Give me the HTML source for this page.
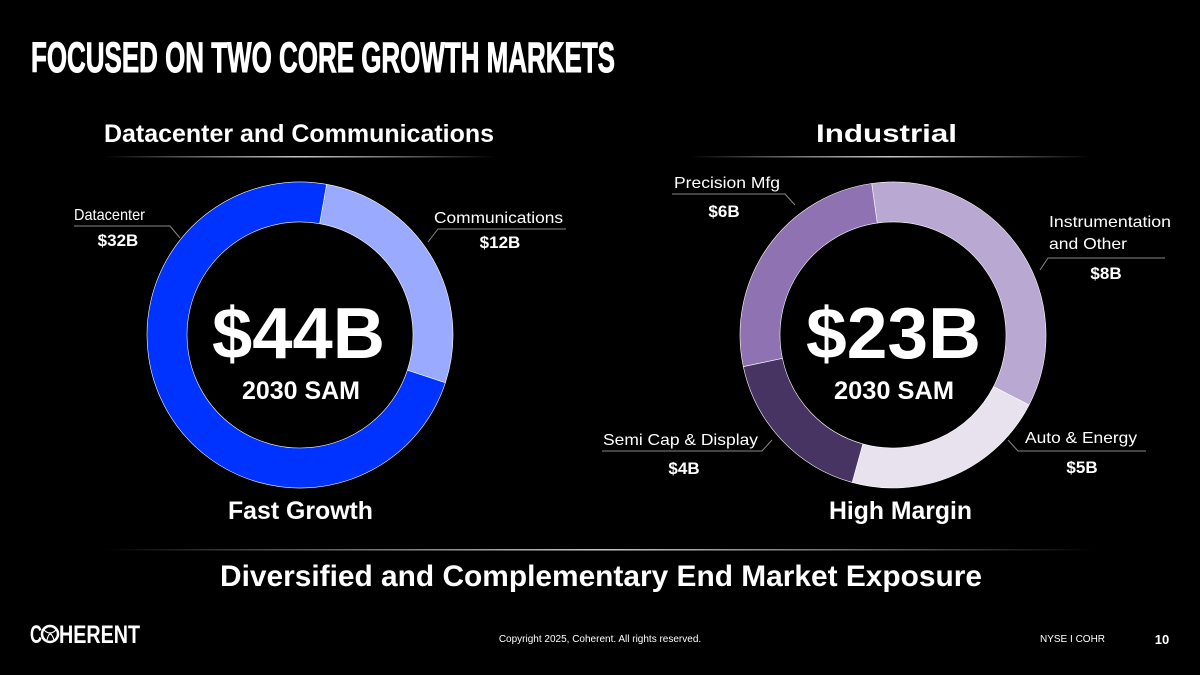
<!DOCTYPE html>
<html><head><meta charset="utf-8"><style>
html,body{margin:0;padding:0;background:#000;}
body{width:1200px;height:675px;overflow:hidden;position:relative;font-family:"Liberation Sans",Arial,sans-serif;}
svg{position:absolute;left:0;top:0;}
</style></head><body>
<svg id="s" width="1200" height="675" viewBox="0 0 1200 675">
<defs>
<linearGradient id="hl" x1="0" x2="1"><stop offset="0" stop-color="#fff" stop-opacity="0"/><stop offset="0.5" stop-color="#ddd" stop-opacity="0.9"/><stop offset="1" stop-color="#fff" stop-opacity="0"/></linearGradient>
</defs>
<text x="31" y="72" fill="#fff" font-size="43" font-weight="bold" stroke="#fff" stroke-width="1" textLength="584" lengthAdjust="spacingAndGlyphs">FOCUSED ON TWO CORE GROWTH MARKETS</text>
<text x="104" y="142" fill="#fff" font-size="25" font-weight="bold" textLength="390" lengthAdjust="spacingAndGlyphs">Datacenter and Communications</text>
<text x="816" y="142" fill="#fff" font-size="25" font-weight="bold" textLength="141" lengthAdjust="spacingAndGlyphs">Industrial</text>
<rect x="105" y="156" width="390" height="1.5" fill="url(#hl)"/>
<rect x="690" y="156" width="400" height="1.5" fill="url(#hl)"/>
<g id="left"></g>
<g id="right"></g>
<text x="212" y="358" fill="#fff" font-size="72" font-weight="bold" textLength="173" lengthAdjust="spacingAndGlyphs">$44B</text>
<text x="242" y="399" fill="#fff" font-size="25" font-weight="bold" textLength="118" lengthAdjust="spacingAndGlyphs">2030 SAM</text>
<text x="806" y="358" fill="#fff" font-size="72" font-weight="bold" textLength="175" lengthAdjust="spacingAndGlyphs">$23B</text>
<text x="834" y="399" fill="#fff" font-size="25" font-weight="bold" textLength="120" lengthAdjust="spacingAndGlyphs">2030 SAM</text>
<g fill="#fff" font-size="16">
<text x="74" y="220" textLength="71" lengthAdjust="spacingAndGlyphs">Datacenter</text>
<text x="118" y="246" text-anchor="middle" font-weight="bold" font-size="17">$32B</text>
<polyline points="74,226 170,226 180,238" fill="none" stroke="#888" stroke-width="1"/>
<text x="434" y="223" textLength="129" lengthAdjust="spacingAndGlyphs">Communications</text>
<text x="500" y="248" text-anchor="middle" font-weight="bold" font-size="17">$12B</text>
<polyline points="566,229 438,229 428,242" fill="none" stroke="#888" stroke-width="1"/>
<text x="674" y="188" textLength="106" lengthAdjust="spacingAndGlyphs">Precision Mfg</text>
<text x="724" y="217" text-anchor="middle" font-weight="bold" font-size="17">$6B</text>
<polyline points="672,194 785,194 795,205" fill="none" stroke="#888" stroke-width="1"/>
<text x="1049" y="227" textLength="122" lengthAdjust="spacingAndGlyphs">Instrumentation</text>
<text x="1049" y="249" textLength="78" lengthAdjust="spacingAndGlyphs">and Other</text>
<text x="1106" y="279" text-anchor="middle" font-weight="bold" font-size="17">$8B</text>
<polyline points="1165,258 1048,258 1040,270" fill="none" stroke="#888" stroke-width="1"/>
<text x="603" y="445" textLength="155" lengthAdjust="spacingAndGlyphs">Semi Cap &amp; Display</text>
<text x="684" y="474" text-anchor="middle" font-weight="bold" font-size="17">$4B</text>
<polyline points="602,451 762,451 772,440" fill="none" stroke="#888" stroke-width="1"/>
<text x="1025" y="443" textLength="112" lengthAdjust="spacingAndGlyphs">Auto &amp; Energy</text>
<text x="1082" y="473" text-anchor="middle" font-weight="bold" font-size="17">$5B</text>
<polyline points="1146,451 1018,451 1008,440" fill="none" stroke="#888" stroke-width="1"/>
</g>
<text x="228" y="519" fill="#fff" font-size="25" font-weight="bold" textLength="145" lengthAdjust="spacingAndGlyphs">Fast Growth</text>
<text x="829" y="519" fill="#fff" font-size="25" font-weight="bold" textLength="143" lengthAdjust="spacingAndGlyphs">High Margin</text>
<rect x="105" y="549" width="990" height="1.5" fill="url(#hl)"/>
<text x="220" y="586" fill="#fff" font-size="30" font-weight="bold" textLength="762" lengthAdjust="spacingAndGlyphs">Diversified and Complementary End Market Exposure</text>
<g>
<text x="30" y="643" fill="#fff" font-size="25" font-weight="bold" textLength="12" lengthAdjust="spacingAndGlyphs">C</text>
<text x="59" y="643" fill="#fff" font-size="25" font-weight="bold" textLength="81" lengthAdjust="spacingAndGlyphs">HERENT</text>
<circle cx="50" cy="634" r="8" fill="none" stroke="#fff" stroke-width="2.5"/>
<path d="M44,630 Q50,636 56,630 M47,640 Q50,628 54,640" fill="none" stroke="#fff" stroke-width="1.2"/>
</g>
<text x="600" y="642" fill="#fff" font-size="10" text-anchor="middle">Copyright 2025, Coherent. All rights reserved.</text>
<text x="1040" y="642" fill="#fff" font-size="10">NYSE I COHR</text>
<text x="1162" y="644" fill="#fff" font-size="13" font-weight="bold" text-anchor="middle">10</text>
</svg>
<script>
const leftCategories = ["Communications", "Datacenter"];
const leftValues = [12, 32];
const leftColors = ["#99aaff", "#0033ff"];
const rightCategories = ["Instrumentation and Other", "Auto & Energy", "Semi Cap & Display", "Precision Mfg"];
const rightValues = [8, 5, 4, 6];
const rightColors = ["#b9a8d1", "#e8e2ef", "#483462", "#8e72b2"];
const NS = "http://www.w3.org/2000/svg";
function pt(cx, cy, r, a) { const t = a * Math.PI / 180; return [cx + r * Math.sin(t), cy - r * Math.cos(t)]; }
function donut(gid, cats, vals, cols, cx, cy, ro, ri, start) {
  const g = document.getElementById(gid);
  const total = vals.reduce((a, b) => a + b, 0);
  let a = start;
  vals.forEach((v, i) => {
    const sweep = v / total * 360, b = a + sweep, large = sweep > 180 ? 1 : 0;
    const p1 = pt(cx, cy, ro, a), p2 = pt(cx, cy, ro, b), p3 = pt(cx, cy, ri, b), p4 = pt(cx, cy, ri, a);
    const p = document.createElementNS(NS, "path");
    p.setAttribute("d", `M${p1} A${ro},${ro} 0 ${large} 1 ${p2} L${p3} A${ri},${ri} 0 ${large} 0 ${p4} Z`);
    p.setAttribute("fill", cols[i]);
    p.setAttribute("stroke", "#fff");
    p.setAttribute("stroke-width", "0.6");
    
    
    g.appendChild(p);
    a = b;
  });
}
donut("left", leftCategories, leftValues, leftColors, 300, 335, 153, 113, 10);
donut("right", rightCategories, rightValues, rightColors, 893, 335, 153, 113, -8);
</script>
</body></html>
